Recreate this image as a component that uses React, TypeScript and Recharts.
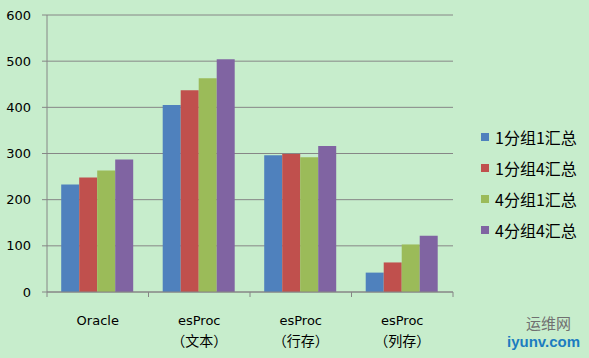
import { Bar, BarChart, CartesianGrid, XAxis, YAxis } from "recharts"

const categories = ["Oracle", "esProc\n（文本）", "esProc\n（行存）", "esProc\n（列存）"]
const seriesNames = ["1分组1汇总", "1分组4汇总", "4分组1汇总", "4分组4汇总"]
const seriesColors = ["#4F81BD", "#C0504D", "#9BBB59", "#8064A2"]
const g1s1 = [233, 405, 296, 42]
const g1s4 = [248, 437, 299, 64]
const g4s1 = [263, 463, 292, 103]
const g4s4 = [287, 504, 316, 122]
const yTicks = [0, 100, 200, 300, 400, 500, 600]

const seriesValues = [g1s1, g1s4, g4s1, g4s4]
const data = categories.map((name, i) => {
  const row: any = { name }
  seriesValues.forEach((vals, s) => (row[`s${s}`] = vals[i]))
  return row
})

const W = 589
const H = 358
const margin = { top: 15, right: 136, left: 0, bottom: 16 }
const yAxisWidth = 47
const band = (W - margin.left - margin.right - yAxisWidth) / categories.length

const font = "'DejaVu Sans', Verdana, sans-serif"

function CategoryTick({ x, y, payload, index }: any) {
  const lines = String(payload.value).split("\n")
  return (
    <g>
      <line x1={x - band / 2} x2={x - band / 2} y1={y} y2={y + 5} stroke="#868686" />
      {index === categories.length - 1 && (
        <line x1={x + band / 2} x2={x + band / 2} y1={y} y2={y + 5} stroke="#868686" />
      )}
      {lines.map((line, i) => (
        <text
          key={i}
          x={x}
          y={y + 33 + i * 21}
          textAnchor="middle"
          fontSize={i === 0 ? 13 : 14}
          fontFamily={i === 0 ? font : "'Noto Sans CJK SC', sans-serif"}
          fill="#000"
        >
          {line}
        </text>
      ))}
    </g>
  )
}

export default function App() {
  return (
    <div style={{ position: "absolute", left: 0, top: 0, width: W, height: H, background: "#C7EDCC", overflow: "hidden" }}>
      <BarChart width={W} height={H} data={data} margin={margin} barCategoryGap="14%" barGap={0}>
        <CartesianGrid stroke="#868686" vertical={false} />
        <XAxis
          dataKey="name"
          height={66 - margin.bottom}
          tickLine={false}
          tickSize={0}
          tickMargin={0}
          axisLine={{ stroke: "#868686" }}
          tick={<CategoryTick />}
          interval={0}
        />
        <YAxis
          domain={[0, 600]}
          ticks={yTicks}
          width={yAxisWidth}
          tickSize={5}
          tickMargin={11}
          tickLine={{ stroke: "#868686" }}
          axisLine={{ stroke: "#868686" }}
          tick={{ fill: "#000", fontSize: 13, fontFamily: font }}
        />
        {seriesNames.map((name, s) => (
          <Bar key={name} dataKey={`s${s}`} name={name} fill={seriesColors[s]} isAnimationActive={false} />
        ))}
      </BarChart>
      <div style={{ position: "absolute", left: 481, top: 121 }}>
        {seriesNames.map((name, s) => (
          <div key={name} style={{ display: "flex", alignItems: "center", height: 31, fontFamily: "'Noto Sans CJK SC', sans-serif", fontSize: 16, color: "#000" }}>
            <span style={{ width: 8, height: 8, background: seriesColors[s], marginRight: 6 }} />
            <span>{name}</span>
          </div>
        ))}
      </div>
      <div style={{ position: "absolute", left: 526, top: 313, fontSize: 15, color: "#707070", fontFamily: "'Noto Sans CJK SC', sans-serif", lineHeight: "20px" }}>
        运维网
      </div>
      <div style={{ position: "absolute", left: 507, top: 333, fontSize: 15, fontWeight: "bold", color: "#1B7CC0", fontFamily: "Arial, 'Liberation Sans', sans-serif", lineHeight: "18px" }}>
        iyunv.com
      </div>
    </div>
  )
}
